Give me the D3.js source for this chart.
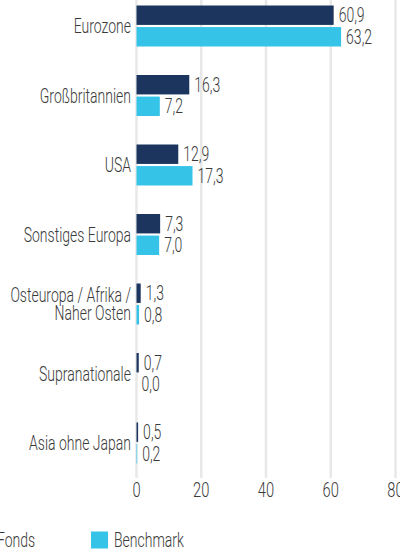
<!DOCTYPE html>
<meta charset="utf-8">
<title>Länderallokation</title>
<style>
body { margin: 0; background: #fff; }
svg text { font-family: "Roboto", "Liberation Sans", sans-serif; font-weight: 300; fill: #3a3a3a; }
</style>
<svg width="400" height="554"></svg>
<script src="https://d3js.org/d3.v7.min.js"></script>
<script>
// categories and values (percent)
var categories = ["Eurozone", "Großbritannien", "USA", "Sonstiges Europa", "Osteuropa / Afrika / Naher Osten", "Supranationale", "Asia ohne Japan"];
var labelLines = [["Eurozone"], ["Großbritannien"], ["USA"], ["Sonstiges Europa"], ["Osteuropa / Afrika /", "Naher Osten"], ["Supranationale"], ["Asia ohne Japan"]];
var fonds = [60.9, 16.3, 12.9, 7.3, 1.3, 0.7, 0.5];
var benchmark = [63.2, 7.2, 17.3, 7.0, 0.8, 0.0, 0.2];
var series = ["Fonds", "Benchmark"];
var colors = ["#1b355e", "#35c3e8"];
var xTicks = [0, 20, 40, 60, 80];

var squeeze = 0.7; // condensed type look

var svg = d3.select("svg");

var x = d3.scaleLinear().domain([0, 80]).range([136.5, 395.5]);
var y = d3.scalePoint().domain(categories).range([26, 443]);
var y1 = d3.scaleBand().domain(series).range([-20.5, 20.5]).paddingInner(0.1);

var fmt = function(v) { return d3.format(".1f")(v).replace(".", ","); };
var place = function(px, py) { return "translate(" + px + "," + py + ") scale(" + squeeze + ",1)"; };

// gridlines
svg.append("g")
  .selectAll("line")
  .data(xTicks)
  .join("line")
    .attr("x1", x).attr("x2", x)
    .attr("y1", 0).attr("y2", 478)
    .attr("stroke", "#e8e8e8")
    .attr("stroke-width", 2.5);

// tick labels
svg.append("g")
  .selectAll("text")
  .data(xTicks)
  .join("text")
    .attr("transform", function(d) { return place(x(d), 490); })
    .attr("dy", "0.35em")
    .attr("text-anchor", "middle")
    .style("font-size", "21px")
    .text(function(d) { return d; });

var rows = categories.map(function(c, i) {
  return { cat: c, lines: labelLines[i], values: [fonds[i], benchmark[i]] };
});

var group = svg.append("g")
  .selectAll("g")
  .data(rows)
  .join("g")
    .attr("transform", function(d) { return "translate(0," + y(d.cat) + ")"; });

// category labels
group.append("text")
    .attr("transform", place(131, 0))
    .attr("text-anchor", "end")
    .style("font-size", "20px")
  .selectAll("tspan")
  .data(function(d) { return d.lines; })
  .join("tspan")
    .attr("x", 0)
    .attr("y", function(d, i, n) { return (i - (n.length - 1) / 2) * 18.5; })
    .attr("dy", "0.35em")
    .text(function(d) { return d; });

var bars = group.selectAll("g.bar")
  .data(function(d) { return d.values.map(function(v, i) { return { key: series[i], value: v, i: i }; }); })
  .join("g")
    .attr("class", "bar");

bars.append("rect")
    .attr("x", x(0))
    .attr("y", function(d) { return y1(d.key); })
    .attr("width", function(d) { return x(d.value) - x(0); })
    .attr("height", y1.bandwidth())
    .attr("fill", function(d) { return colors[d.i]; });

bars.append("text")
    .attr("transform", function(d) { return place(x(d.value) + 5, y1(d.key) + y1.bandwidth() / 2); })
    .attr("dy", "0.35em")
    .style("font-size", "20px")
    .text(function(d) { return fmt(d.value); });

// legend (partly outside the left edge, as in the source)
var legend = svg.append("g")
    .attr("transform", "translate(0,540)")
  .selectAll("g")
  .data(series)
  .join("g")
    .attr("transform", function(d, i) { return "translate(" + (-26 + i * 117) + ",0)"; });

legend.append("rect")
    .attr("y", -8.5)
    .attr("width", 17)
    .attr("height", 17)
    .attr("fill", function(d, i) { return colors[i]; });

legend.append("text")
    .attr("transform", place(23, 0))
    .attr("dy", "0.35em")
    .style("font-size", "20px")
    .text(function(d) { return d; });
</script>
